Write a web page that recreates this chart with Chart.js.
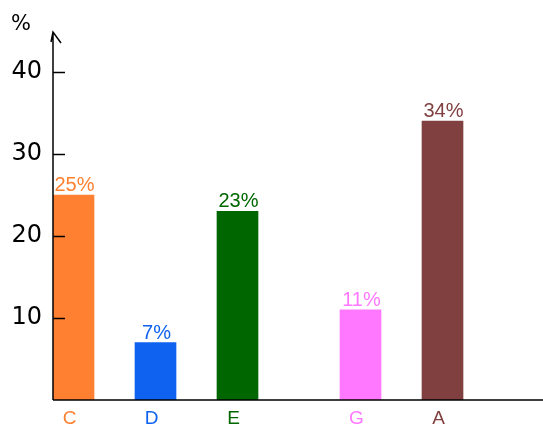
<!DOCTYPE html>
<html>
<head>
<meta charset="utf-8">
<script src="https://cdn.jsdelivr.net/npm/chart.js@4"></script>
<style>
  html, body { margin: 0; padding: 0; background: #fff; overflow: hidden; }
  #wrap { width: 545px; height: 428px; }
</style>
</head>
<body>
<div id="wrap"><canvas id="chart"></canvas></div>
<script>
// categories (blank slots are empty positions on the axis)
const categories = ['C', '', 'D', '', 'E', '', '', 'G', '', 'A', '', ''];
const values = [25, null, 7, null, 23, null, null, 11, null, 34, null, null];
const colors = ['#FF8030', null, '#0F62F0', null, '#006600', null, null, '#FF78FF', null, '#804040', null, null];
const yTicks = [10, 20, 30, 40];

// labels above bars + axis arrow and inner tick marks
const extras = {
  id: 'extras',
  afterDatasetsDraw(chart) {
    const ctx = chart.ctx;
    const meta = chart.getDatasetMeta(0);
    ctx.save();
    ctx.font = '20px "Liberation Sans", Arial, sans-serif';
    ctx.textAlign = 'center';
    ctx.textBaseline = 'alphabetic';
    meta.data.forEach((bar, i) => {
      if (values[i] == null) return;
      ctx.fillStyle = colors[i];
      ctx.fillText(values[i] + '%', bar.x + 1, bar.y - 4);
    });

    const area = chart.chartArea;
    const y = chart.scales.y;
    ctx.strokeStyle = '#000';
    ctx.lineWidth = 1.5;
    ctx.beginPath();
    // y axis with arrow
    ctx.moveTo(area.left, area.bottom);
    ctx.lineTo(area.left, area.top - 1);
    ctx.moveTo(area.left - 2, area.top + 9);
    ctx.lineTo(area.left, area.top - 1);
    ctx.lineTo(area.left + 8, area.top + 10);
    // x axis
    ctx.moveTo(area.left, area.bottom);
    ctx.lineTo(chart.width, area.bottom);
    // tick marks
    yTicks.forEach(v => {
      const py = Math.round(y.getPixelForValue(v)) + 0.5;
      ctx.moveTo(area.left, py);
      ctx.lineTo(area.left + 12, py);
    });
    ctx.stroke();

    ctx.fillStyle = '#000';
    ctx.font = '21px "DejaVu Sans", sans-serif';
    ctx.textAlign = 'left';
    ctx.fillText('%', 11, 30);
    ctx.restore();
  }
};

new Chart(document.getElementById('chart'), {
  type: 'bar',
  data: {
    labels: categories,
    datasets: [{
      data: values,
      backgroundColor: colors,
      barPercentage: 1,
      categoryPercentage: 1
    }]
  },
  options: {
    responsive: true,
    maintainAspectRatio: false,
    animation: false,
    layout: { padding: { top: 33, right: 0, left: 0, bottom: 0 } },
    plugins: { legend: { display: false }, tooltip: { enabled: false } },
    scales: {
      x: {
        grid: { display: false, drawTicks: false },
        border: { display: false },
        ticks: {
          padding: 7,
          labelOffset: -4,
          autoSkip: false,
          maxRotation: 0,
          font: { family: '"Liberation Sans", Arial, sans-serif', size: 19 },
          color: ctx => colors[ctx.index] || '#000'
        },
        afterFit(scale) { scale.height = 28; }
      },
      y: {
        min: 0,
        max: 44.75,
        grid: { display: false, drawTicks: false },
        border: { display: false },
        afterBuildTicks(scale) { scale.ticks = yTicks.map(v => ({ value: v })); },
        ticks: {
          padding: 11,
          color: '#000',
          font: { family: '"DejaVu Sans", sans-serif', size: 24 }
        },
        afterFit(scale) { scale.width = 53; }
      }
    }
  },
  plugins: [extras]
});
</script>
</body>
</html>
